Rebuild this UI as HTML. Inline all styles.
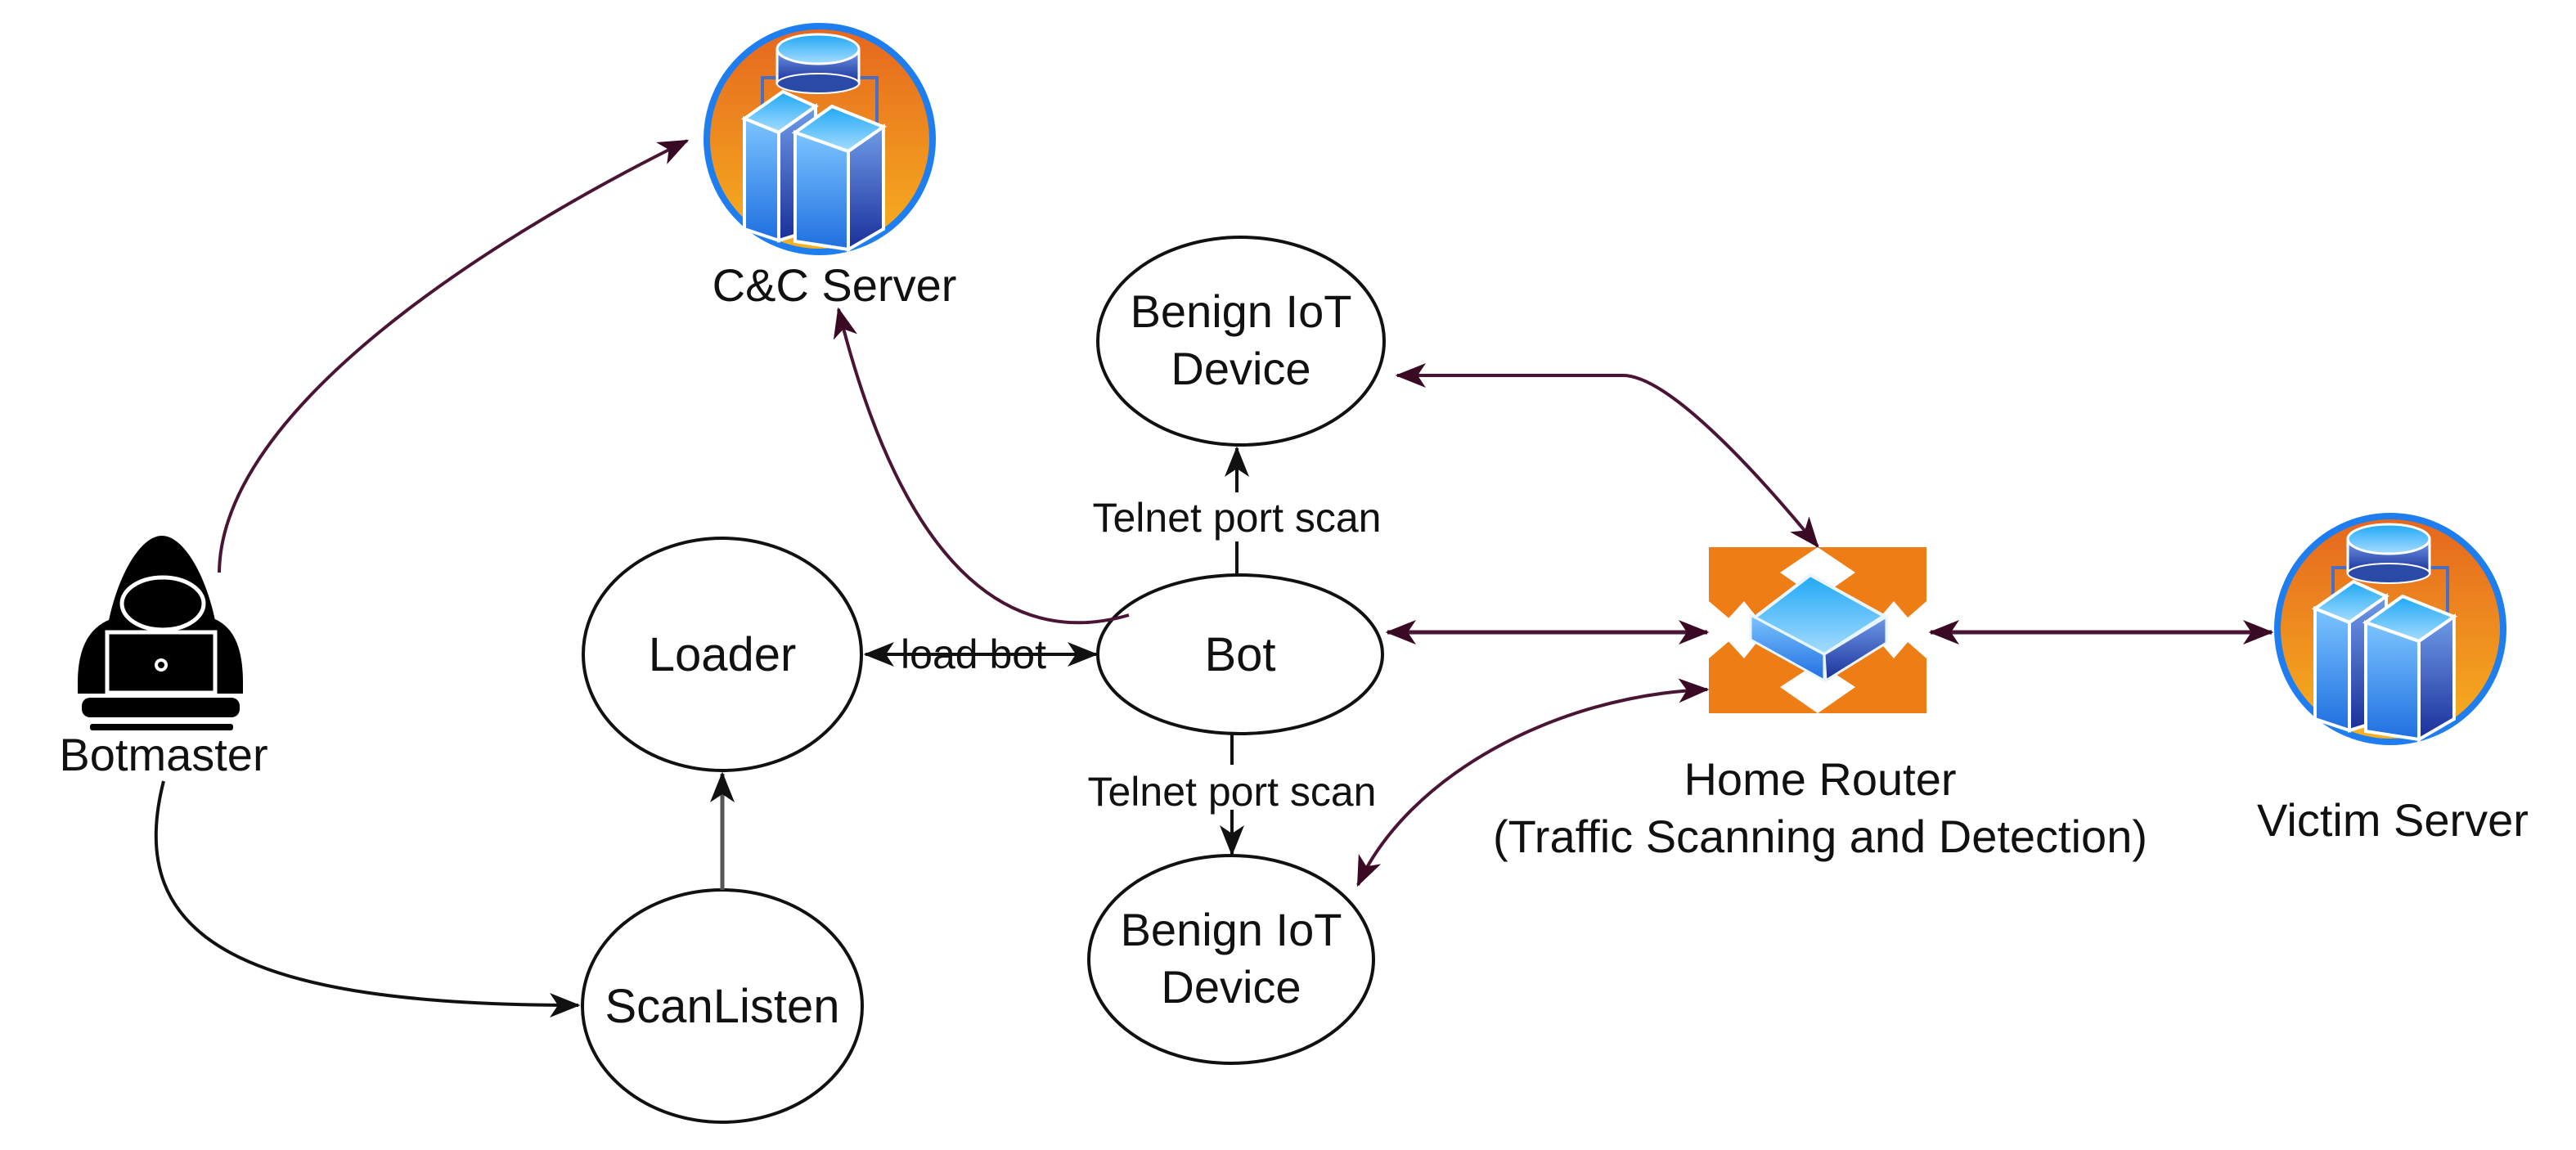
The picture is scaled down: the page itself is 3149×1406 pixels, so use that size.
<!DOCTYPE html>
<html><head><meta charset="utf-8"><style>
html,body{margin:0;padding:0;background:#fff;}
svg{display:block;}
text{font-family:"Liberation Sans",Arial,sans-serif;fill:#111;}
</style></head><body>
<svg width="3149" height="1406" viewBox="0 0 3149 1406" xmlns="http://www.w3.org/2000/svg">
<defs>
<linearGradient id="og" x1="0" y1="0" x2="0" y2="1"><stop offset="0" stop-color="#e5661f"/><stop offset="1" stop-color="#f7b21f"/></linearGradient>
<linearGradient id="bl" x1="0" y1="0" x2="0" y2="1"><stop offset="0" stop-color="#7cc4ff"/><stop offset="1" stop-color="#1f6fe0"/></linearGradient>
<linearGradient id="bd" x1="0" y1="0" x2="0" y2="1"><stop offset="0" stop-color="#6f9be8"/><stop offset="1" stop-color="#1a2f9a"/></linearGradient>
<linearGradient id="tp" x1="0" y1="0" x2="0" y2="1"><stop offset="0" stop-color="#1fa8f5"/><stop offset="1" stop-color="#a6dcff"/></linearGradient>
<marker id="am" viewBox="0 0 30 24" refX="28" refY="12" markerWidth="38" markerHeight="30" markerUnits="userSpaceOnUse" orient="auto-start-reverse">
<path d="M0,0 L30,12 L0,24 L8,12 Z" fill="#3a0a24"/></marker>
<marker id="ak" viewBox="0 0 30 24" refX="28" refY="12" markerWidth="38" markerHeight="30" markerUnits="userSpaceOnUse" orient="auto-start-reverse">
<path d="M0,0 L30,12 L0,24 L8,12 Z" fill="#111"/></marker>
<g id="srv">
<circle cx="0" cy="0" r="138" fill="url(#og)" stroke="#1e7ef0" stroke-width="8"/>
<path d="M-70,75 L-70,-75 L70,-75 L70,75" fill="none" stroke="#4a6fc0" stroke-width="4"/>
<rect x="-52" y="-110" width="100" height="42" fill="url(#bd)" stroke="#fff" stroke-width="3"/>
<ellipse cx="-2" cy="-110" rx="50" ry="18" fill="url(#tp)" stroke="#fff" stroke-width="3"/>
<ellipse cx="-2" cy="-68" rx="50" ry="12" fill="#2a4aa8" stroke="#fff" stroke-width="2"/>
<polygon points="-92,-25 -45,-58 -5,-40 -50,-8" fill="url(#tp)" stroke="#fff" stroke-width="4"/>
<polygon points="-92,-25 -50,-8 -50,124 -92,110" fill="url(#bl)" stroke="#fff" stroke-width="4"/>
<polygon points="-50,-8 -5,-40 -5,110 -50,124" fill="url(#bd)" stroke="#fff" stroke-width="4"/>
<polygon points="-30,-8 15,-40 78,-15 35,15" fill="url(#tp)" stroke="#fff" stroke-width="4"/>
<polygon points="-30,-8 35,15 35,135 -30,125" fill="url(#bl)" stroke="#fff" stroke-width="4"/>
<polygon points="35,15 78,-15 78,110 35,135" fill="url(#bd)" stroke="#fff" stroke-width="4"/>
</g>
</defs>

<use href="#srv" x="1002" y="170"/>
<text x="1020" y="368" font-size="56" text-anchor="middle">C&amp;C Server</text>

<use href="#srv" x="2922" y="769"/>
<text x="2925" y="1022" font-size="56" text-anchor="middle">Victim Server</text>

<g>
<path d="M198,655 C170,655 140,710 130,775 L266,775 C256,710 226,655 198,655 Z" fill="#000"/>
<path d="M95,835 C95,790 110,760 150,753 L250,753 C285,760 297,790 297,835 L297,848 L95,848 Z" fill="#000"/>
<ellipse cx="199" cy="738" rx="50" ry="32" fill="#000" stroke="#fff" stroke-width="5"/>
<rect x="131" y="773" width="132" height="74" fill="#000" stroke="#fff" stroke-width="5"/>
<circle cx="197" cy="813" r="8" fill="#fff"/><circle cx="197" cy="813" r="4" fill="#000"/>
<rect x="100" y="853" width="193" height="24" rx="10" fill="#000"/>
<rect x="110" y="885" width="175" height="8" rx="3" fill="#000"/>
</g>
<text x="200" y="942" font-size="56" text-anchor="middle">Botmaster</text>

<g>
<rect x="2089" y="669" width="266" height="203" fill="#ee7d16"/>
<polygon points="2222,669 2268,700 2222,732 2176,700" fill="#fff"/>
<polygon points="2222,810 2268,840 2222,872 2176,840" fill="#fff"/>
<polygon points="2089,735 2130,770 2089,805" fill="#fff"/>
<polygon points="2100,770 2132,735 2160,770 2132,805" fill="#fff"/>
<polygon points="2355,735 2315,770 2355,805" fill="#fff"/>
<polygon points="2345,770 2315,735 2285,770 2315,805" fill="#fff"/>
<polygon points="2145,755 2213,703 2303,753 2230,800" fill="url(#tp)" stroke="#eaf6ff" stroke-width="4"/>
<polygon points="2140,752 2230,800 2230,832 2140,782" fill="url(#bl)" stroke="#eaf6ff" stroke-width="3"/>
<polygon points="2230,800 2306,754 2306,786 2232,832" fill="url(#bd)" stroke="#eaf6ff" stroke-width="3"/>
</g>
<text x="2225" y="972" font-size="56" text-anchor="middle">Home Router</text>
<text x="2225" y="1042" font-size="56" text-anchor="middle">(Traffic Scanning and Detection)</text>

<g fill="none" stroke="#111" stroke-width="4">
<ellipse cx="883" cy="800" rx="170" ry="142"/>
<ellipse cx="883" cy="1230" rx="171" ry="142"/>
<ellipse cx="1516" cy="800" rx="174" ry="97"/>
<ellipse cx="1517" cy="417" rx="175" ry="127"/>
<ellipse cx="1505" cy="1173" rx="174" ry="127"/>
</g>
<text x="883" y="820" font-size="58" text-anchor="middle">Loader</text>
<text x="883" y="1250" font-size="58" text-anchor="middle">ScanListen</text>
<text x="1516" y="820" font-size="58" text-anchor="middle">Bot</text>
<text x="1517" y="400" font-size="56" text-anchor="middle">Benign IoT</text>
<text x="1517" y="470" font-size="56" text-anchor="middle">Device</text>
<text x="1505" y="1156" font-size="56" text-anchor="middle">Benign IoT</text>
<text x="1505" y="1226" font-size="56" text-anchor="middle">Device</text>

<g fill="none" stroke-width="4">
<path d="M268,700 C270,500 600,290 840,172" stroke="#4a1535" marker-end="url(#am)"/>
<path d="M1380,752 C1250,790 1110,720 1025,378" stroke="#4a1535" marker-end="url(#am)"/>
<path d="M200,955 C150,1150 300,1229 707,1229" stroke="#111" marker-end="url(#ak)"/>
<path d="M883,1088 L883,946" stroke="#555" stroke-width="5" marker-end="url(#ak)"/>
<path d="M1058,800 L1340,800" stroke="#111" marker-start="url(#ak)" marker-end="url(#ak)"/>
<path d="M1512,702 L1512,662" stroke="#111"/>
<path d="M1512,602 L1512,548" stroke="#111" marker-end="url(#ak)"/>
<path d="M1506,897 L1506,935" stroke="#111"/>
<path d="M1506,990 L1506,1044" stroke="#111" marker-end="url(#ak)"/>
<path d="M1708,459 L1984,459 C2040,459 2150,580 2222,668" stroke="#4a1535" marker-start="url(#am)" marker-end="url(#am)"/>
<path d="M1696,773 L2087,773" stroke="#4a1535" stroke-width="5" marker-start="url(#am)" marker-end="url(#am)"/>
<path d="M2360,773 L2777,773" stroke="#4a1535" stroke-width="5" marker-start="url(#am)" marker-end="url(#am)"/>
<path d="M2087,843 C1900,850 1720,950 1660,1082" stroke="#4a1535" marker-start="url(#am)" marker-end="url(#am)"/>
</g>
<text x="1190" y="817" font-size="50" text-anchor="middle">load bot</text>
<text x="1512" y="650" font-size="50" text-anchor="middle">Telnet port scan</text>
<text x="1506" y="985" font-size="50" text-anchor="middle">Telnet port scan</text>
</svg>
</body></html>
